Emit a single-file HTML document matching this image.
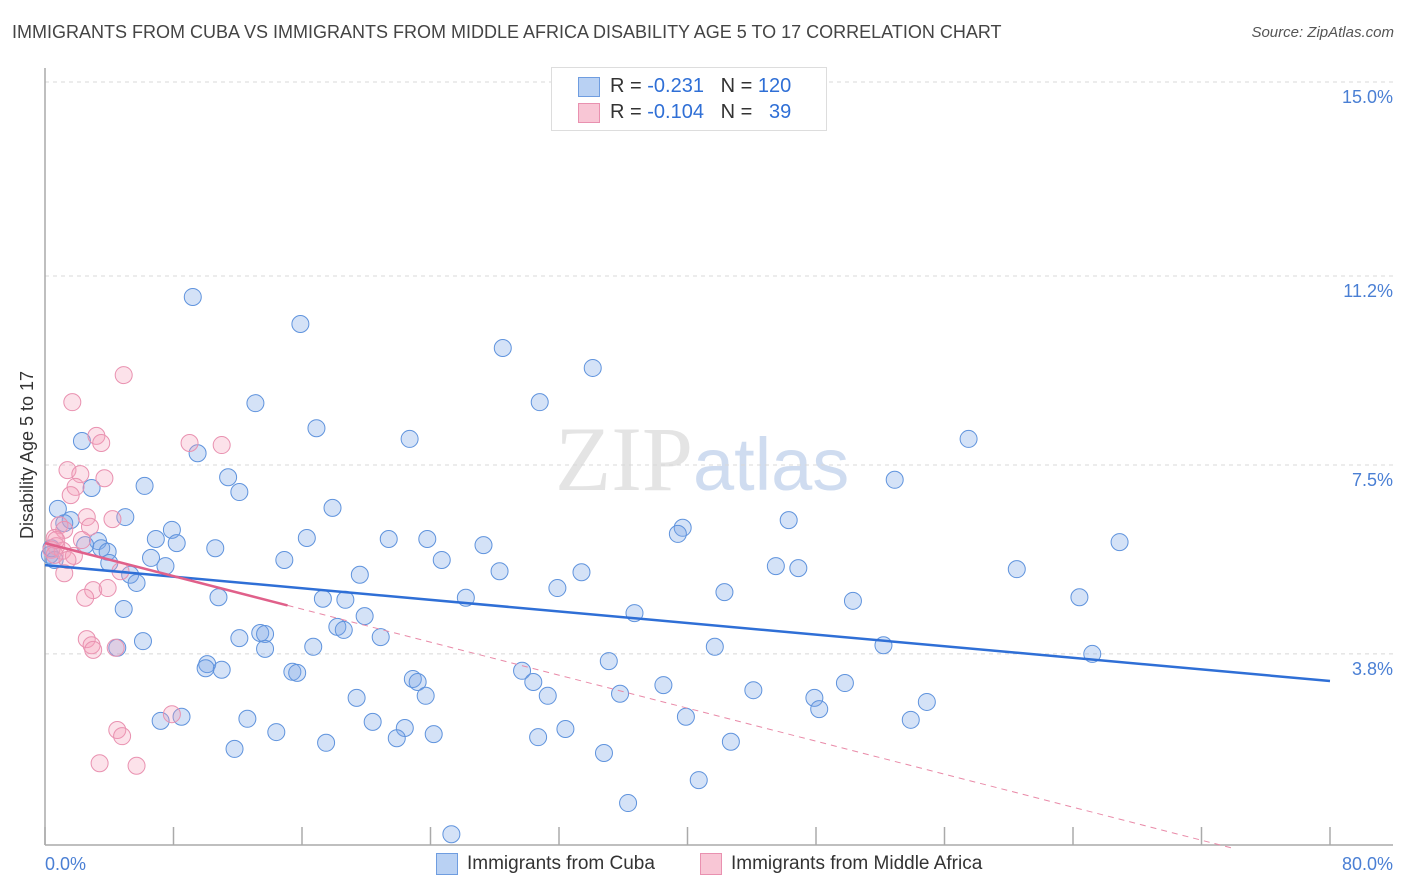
<!DOCTYPE html>
<html><head><meta charset="utf-8">
<style>
body{margin:0;background:#fff;font-family:"Liberation Sans",sans-serif;}
#wrap{position:relative;width:1406px;height:892px;overflow:hidden;}
.t{position:absolute;white-space:nowrap;}
</style></head>
<body>
<div id="wrap">
<div class="t" style="left:12px;top:22px;font-size:18px;color:#444;">IMMIGRANTS FROM CUBA VS IMMIGRANTS FROM MIDDLE AFRICA DISABILITY AGE 5 TO 17 CORRELATION CHART</div>
<div class="t" style="right:12px;top:24px;font-size:15px;color:#555;font-style:italic;">Source: ZipAtlas.com</div>
<svg id="chart" width="1406" height="892" style="position:absolute;left:0;top:0"></svg>
</div>
<script>
const blueX=[9.2,15.9,28.5,34.1,13.1,30.8,16.9,22.7,2.3,9.5,57.5,11.4,6.2,2.9,12.1,52.9,17.9,0.8,5.0,1.6,1.2,46.3,39.7,39.4,7.9,6.9,8.2,16.3,21.4,23.8,27.3,66.9,3.3,2.5,3.5,3.9,10.6,6.6,14.9,24.7,7.5,4.0,45.5,46.9,60.5,28.3,33.4,19.6,5.3,5.7,31.9,42.3,10.8,17.3,26.2,18.7,64.4,50.3,4.9,19.9,36.7,18.2,18.6,13.4,12.1,13.7,20.9,6.1,16.7,4.5,41.7,52.2,13.7,65.2,35.1,10.1,10.0,11.0,15.4,15.7,29.7,22.9,23.2,30.4,38.5,49.8,44.1,23.7,31.3,35.8,19.4,47.9,54.9,48.2,8.5,7.2,12.6,39.9,20.4,53.9,22.4,32.4,14.4,24.2,21.9,30.7,17.5,42.7,11.8,34.8,40.7,36.3,25.3,0.3,0.4,0.6];
const blueY=[10.79,10.26,9.79,9.40,8.71,8.73,8.22,8.01,7.97,7.73,8.01,7.26,7.09,7.05,6.97,7.21,6.66,6.64,6.48,6.42,6.36,6.42,6.27,6.15,6.23,6.05,5.97,6.07,6.05,6.05,5.93,5.99,6.01,5.93,5.87,5.80,5.87,5.68,5.64,5.64,5.52,5.58,5.52,5.48,5.46,5.42,5.40,5.35,5.35,5.19,5.09,5.01,4.91,4.88,4.90,4.86,4.91,4.84,4.68,4.54,4.60,4.33,4.27,4.21,4.11,4.19,4.13,4.05,3.94,3.92,3.94,3.97,3.90,3.80,3.66,3.60,3.52,3.49,3.45,3.43,3.47,3.31,3.25,3.25,3.19,3.23,3.09,2.98,2.98,3.02,2.94,2.94,2.86,2.72,2.57,2.49,2.53,2.57,2.47,2.51,2.35,2.33,2.27,2.23,2.15,2.17,2.06,2.08,1.94,1.86,1.33,0.88,0.27,5.74,5.87,5.64];
const pinkX=[4.9,1.7,3.2,3.5,9.0,11.0,1.4,2.2,3.7,1.9,1.6,2.6,4.2,0.9,1.2,2.8,0.6,2.3,0.7,0.4,1.1,1.8,1.4,0.6,4.7,1.2,3.0,3.9,2.5,2.6,2.9,3.0,4.4,7.9,4.5,4.8,3.4,5.7,0.7];
const pinkY=[9.26,8.73,8.07,7.93,7.93,7.89,7.40,7.32,7.24,7.07,6.91,6.48,6.44,6.32,6.23,6.29,6.07,6.03,5.91,5.84,5.82,5.72,5.64,5.74,5.42,5.38,5.05,5.09,4.90,4.09,3.97,3.88,3.92,2.62,2.31,2.19,1.66,1.61,6.03];
const yTicks=[15.0,11.2,7.5,3.8];
const yTickLabels=["15.0%","11.2%","7.5%","3.8%"];
const xTicks=[0,8,16,24,32,40,48,56,64,72,80];
const blueTrend=[5.54,3.27];
const pinkTrend=[5.97,-0.0808];
const pinkSolidEnd=15.1;

const NS="http://www.w3.org/2000/svg";
const svg=document.getElementById('chart');
const X0=45,X1=1330,Y0=848,PXY=51.07;
const sx=v=>X0+(v/80)*(X1-X0);
const sy=v=>Y0-v*PXY;
function mk(tag,attrs,parent){const e=document.createElementNS(NS,tag);for(const k in attrs)e.setAttribute(k,attrs[k]);(parent||svg).appendChild(e);return e;}

// watermark
const wm=mk('text',{x:555,y:490,'font-size':92,'font-family':'Liberation Serif, serif',fill:'#e4e4e4'});


wm.innerHTML='ZIP<tspan font-family="Liberation Sans, sans-serif" font-size="74" fill="#cfdcf0">atlas</tspan>';

// grid
yTicks.forEach((v,i)=>{
 const g=mk('line',{x1:X0,x2:1393,y1:sy(v),y2:sy(v),stroke:'#d8d8d8','stroke-dasharray':'4 4'});
 
 
 const t=mk('text',{x:1393,y:sy(v)+21,'text-anchor':'end','font-size':18,fill:'#4a7fd4'});
 
 
 t.textContent=yTickLabels[i];
});
// axes
const ya=mk('line',{x1:X0,x2:X0,y1:68,y2:845,stroke:'#aaa','stroke-width':1.5});


const xa=mk('line',{x1:X0,x2:1393,y1:845,y2:845,stroke:'#aaa','stroke-width':1.5});


xTicks.forEach(v=>{
 const l=mk('line',{x1:sx(v),x2:sx(v),y1:827,y2:845,stroke:'#aaa','stroke-width':1.5});
 
 
});
const xl0=mk('text',{x:45,y:870,'font-size':18,fill:'#4a7fd4'});


xl0.textContent='0.0%';
const xl1=mk('text',{x:1393,y:870,'text-anchor':'end','font-size':18,fill:'#4a7fd4'});


xl1.textContent='80.0%';
const yt=mk('text',{x:33,y:455,'text-anchor':'middle','font-size':18,fill:'#333',transform:'rotate(-90 33 455)'});


yt.textContent='Disability Age 5 to 17';

// points
blueX.forEach((x,i)=>{
 const c=mk('circle',{cx:sx(x),cy:sy(blueY[i]),r:8.5,fill:'rgba(120,165,230,0.32)',stroke:'#5f93dd','stroke-width':1});
 
 
});
pinkX.forEach((x,i)=>{
 const c=mk('circle',{cx:sx(x),cy:sy(pinkY[i]),r:8.5,fill:'rgba(245,160,185,0.3)',stroke:'#e991b0','stroke-width':1});
 
 
});
// trends
const bt=mk('line',{x1:sx(0),y1:sy(blueTrend[0]),x2:sx(80),y2:sy(blueTrend[1]),stroke:'#2f6fd6','stroke-width':2.5});


const pEnd=-pinkTrend[0]/pinkTrend[1];
const pd=mk('line',{x1:sx(pinkSolidEnd),y1:sy(pinkTrend[0]+pinkTrend[1]*pinkSolidEnd),x2:sx(pEnd),y2:sy(0),stroke:'#e98aa8','stroke-width':1,'stroke-dasharray':'6 5'});


const ps=mk('line',{x1:sx(0),y1:sy(pinkTrend[0]),x2:sx(pinkSolidEnd),y2:sy(pinkTrend[0]+pinkTrend[1]*pinkSolidEnd),stroke:'#e0608a','stroke-width':2.5});


</script>
<div class="t" style="left:551px;top:67px;width:274px;height:62px;border:1px solid #ddd;background:#fff;font-size:20px;">
 <div style="position:absolute;left:26px;top:9px;width:20px;height:18px;background:#b9d1f3;border:1px solid #6f9de0;"></div>
 <div class="t" style="left:58px;top:7px;color:#333;">R = <span style="color:#2f6fd6"> -0.231</span> &nbsp; N = <span style="color:#2f6fd6">120</span></div>
 <div style="position:absolute;left:26px;top:35px;width:20px;height:18px;background:#f8c6d5;border:1px solid #e991b0;"></div>
 <div class="t" style="left:58px;top:33px;color:#333;">R = <span style="color:#2f6fd6">-0.104</span> &nbsp; N = <span style="color:#2f6fd6">&nbsp; 39</span></div>
</div>
<div class="t" style="left:436px;top:853px;width:20px;height:20px;background:#b9d1f3;border:1px solid #6f9de0;"></div>
<div class="t" style="left:467px;top:853px;font-size:19px;color:#333;">Immigrants from Cuba</div>
<div class="t" style="left:700px;top:853px;width:20px;height:20px;background:#f8c6d5;border:1px solid #e991b0;"></div>
<div class="t" style="left:731px;top:853px;font-size:19px;color:#333;">Immigrants from Middle Africa</div>
</body></html>
